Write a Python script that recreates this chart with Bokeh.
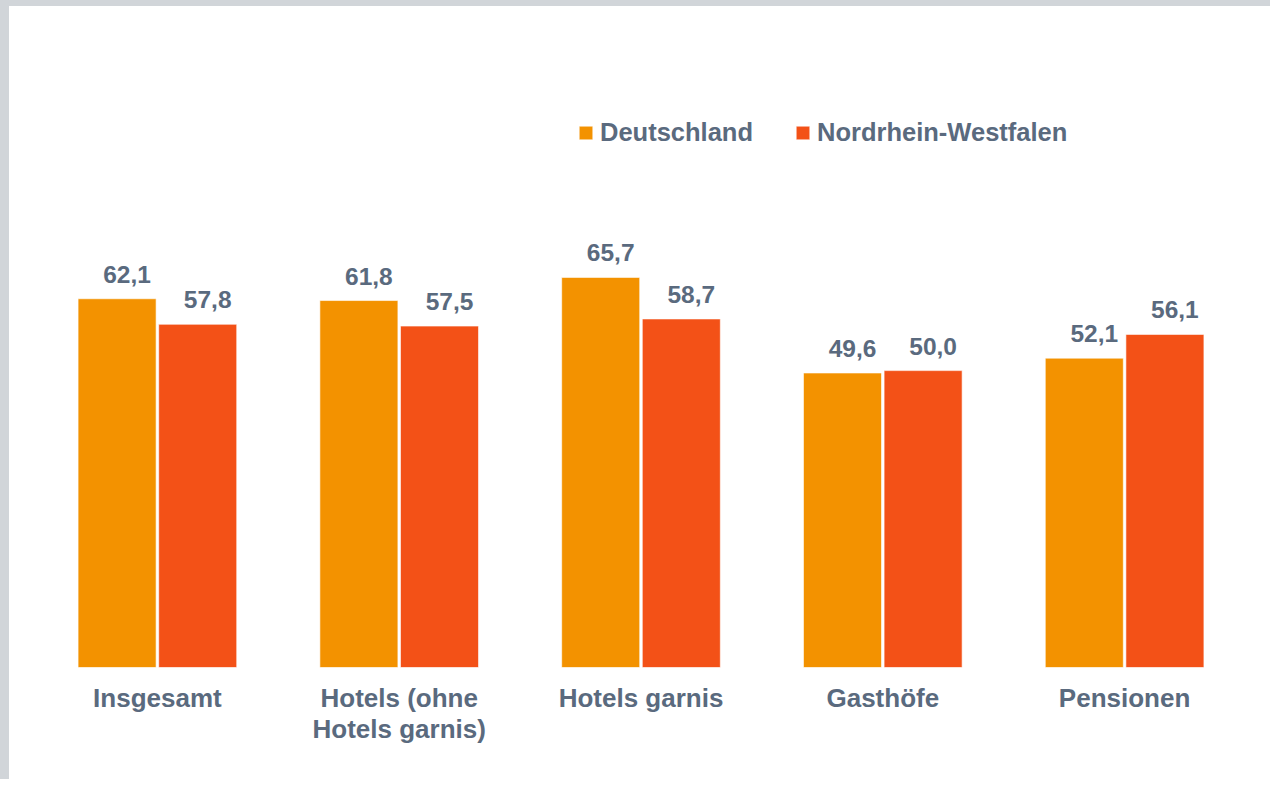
from bokeh.plotting import figure
from bokeh.models import ColumnDataSource, FactorRange, Range1d, LabelSet, Legend, LegendItem
from bokeh.transform import dodge
from bokeh.core.properties import value
from bokeh.embed import file_html
from bokeh.resources import INLINE

categories = ["Insgesamt", "Hotels (ohne\nHotels garnis)", "Hotels garnis", "Gasthöfe", "Pensionen"]
deutschland = [62.1, 61.8, 65.7, 49.6, 52.1]
nrw = [57.8, 57.5, 58.7, 50.0, 56.1]
series_names = ["Deutschland", "Nordrhein-Westfalen"]

C_DE = "#f39200"
C_NRW = "#f35117"
TXT = "#5a6a7e"
FONT = "Liberation Sans"

def fmt(v):
    return f"{v:.1f}".replace(".", ",")

src = ColumnDataSource(data=dict(
    cat=categories,
    de=deutschland,
    nrw=nrw,
    de_lab=[fmt(v) for v in deutschland],
    nrw_lab=[fmt(v) for v in nrw],
))

p = figure(x_range=FactorRange(factors=categories, range_padding=0),
           y_range=Range1d(0, 109.3),
           width=1270, height=779, output_backend="svg", toolbar_location=None,
           min_border_left=27, min_border_right=34, min_border_top=12, min_border_bottom=118)
p.styles = {"border-top": "6px solid #d1d5d9", "border-left": "9px solid #d1d5d9"}

r_de = p.vbar(x=dodge("cat", -0.1667, range=p.x_range), top="de", width=0.3227, source=src,
              fill_color=C_DE, line_color="white", line_width=0.6)
r_nrw = p.vbar(x=dodge("cat", 0.1667, range=p.x_range), top="nrw", width=0.3227, source=src,
               fill_color=C_NRW, line_color="white", line_width=0.6)

for col, lab, off in (("de", "de_lab", -0.1667), ("nrw", "nrw_lab", 0.1667)):
    ls = LabelSet(x=dodge("cat", off, range=p.x_range), y=col, text=lab, source=src,
                  x_offset=10, y_offset=16, text_align="center", text_baseline="alphabetic",
                  text_font=value(FONT), text_font_size=value("24.5px"),
                  text_font_style=value("bold"), text_color=value(TXT))
    p.add_layout(ls)

p.xgrid.grid_line_color = None
p.ygrid.grid_line_color = None
p.yaxis.visible = False
p.outline_line_color = None
p.xaxis.axis_line_color = None
p.xaxis.major_tick_line_color = None
p.xaxis.minor_tick_line_color = None
p.xaxis.major_label_text_font = FONT
p.xaxis.major_label_text_font_size = "26px"
p.xaxis.major_label_text_font_style = "bold"
p.xaxis.major_label_text_color = TXT
p.xaxis.major_label_text_line_height = 1.05
p.xaxis.major_label_standoff = 9

legend = Legend(items=[LegendItem(label=series_names[0], renderers=[r_de]),
                       LegendItem(label=series_names[1], renderers=[r_nrw])],
                orientation="horizontal", location=(541, 520), padding=0, margin=0,
                spacing=41, glyph_width=17, glyph_height=17, label_standoff=6,
                label_text_font=FONT, label_text_font_size="25.5px", label_text_font_style="bold",
                label_text_color=TXT, border_line_color=None, background_fill_alpha=0)
p.add_layout(legend, "center")

open("out.html", "w").write(file_html(p, INLINE))
